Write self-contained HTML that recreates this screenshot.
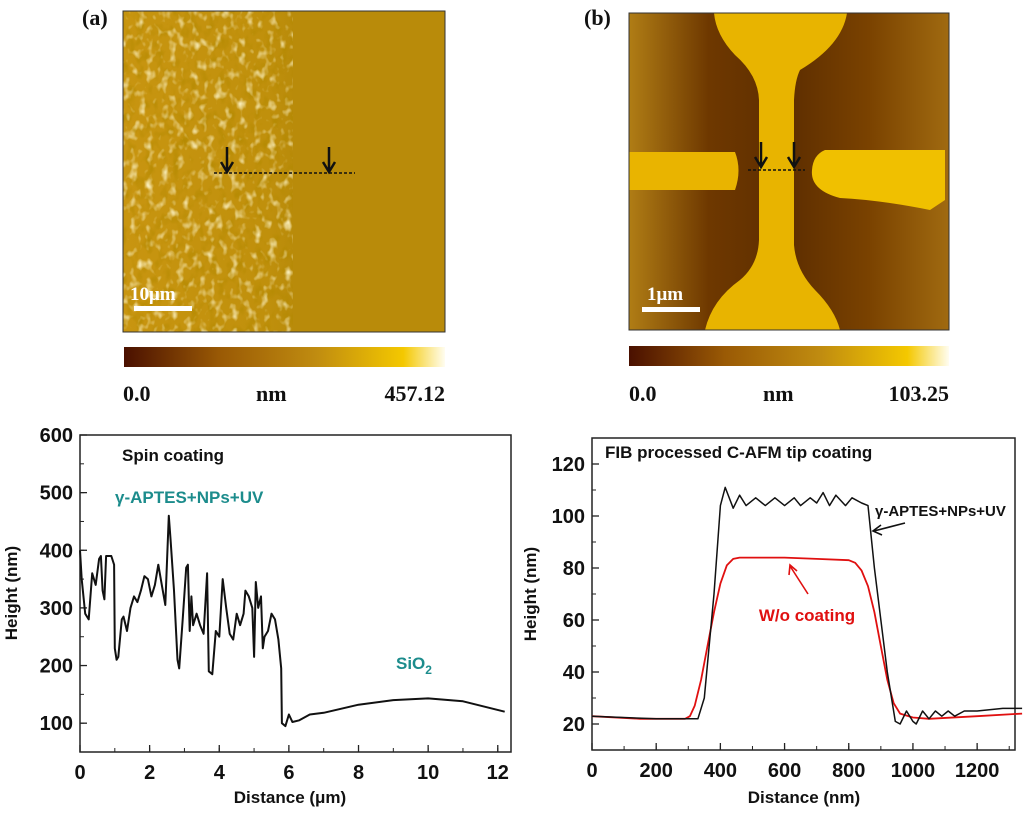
<!DOCTYPE html>
<html><head><meta charset="utf-8"><style>
body{margin:0;background:#fff;width:1024px;height:813px;overflow:hidden}
svg{display:block}
.tk{font:bold 20px "Liberation Sans",sans-serif;fill:#111}
.at{font:bold 17px "Liberation Sans",sans-serif;fill:#111}
.tl{font:bold 22px "Liberation Serif",serif;fill:#111}
</style></head><body>
<svg id="fig" width="1024" height="813">
<defs>
<filter id="tex" x="0" y="0" width="100%" height="100%">
<feTurbulence type="fractalNoise" baseFrequency="0.13 0.1" numOctaves="2" seed="4"/>
<feColorMatrix type="matrix" values="0 0 0 0 1  0 0 0 0 0.93  0 0 0 0 0.6  2.6 0 0 0 -1.35"/>
</filter>
<filter id="tex2" x="0" y="0" width="100%" height="100%">
<feTurbulence type="fractalNoise" baseFrequency="0.11 0.08" numOctaves="2" seed="9"/>
<feColorMatrix type="matrix" values="0 0 0 0 0.45  0 0 0 0 0.25  0 0 0 0 0  2.4 0 0 0 -1.2"/>
</filter>
<linearGradient id="cbar" x1="0" x2="1">
<stop offset="0" stop-color="#4a1000"/><stop offset="0.3" stop-color="#9a5a05"/><stop offset="0.6" stop-color="#c08c10"/><stop offset="0.87" stop-color="#f4c800"/><stop offset="1" stop-color="#fffdf0"/></linearGradient>
<linearGradient id="bgB" x1="0" x2="1">
<stop offset="0" stop-color="#b07d15"/><stop offset="0.25" stop-color="#6e3800"/><stop offset="0.5" stop-color="#5e2e00"/><stop offset="0.75" stop-color="#7a4200"/><stop offset="1" stop-color="#a06a10"/></linearGradient>
<linearGradient id="leftA" x1="0" x2="1">
<stop offset="0" stop-color="#c89510"/><stop offset="0.85" stop-color="#c0900c"/><stop offset="1" stop-color="#b98b0a"/></linearGradient>
</defs>

<!-- panel a -->
<g>
<rect x="123" y="11" width="322" height="321" fill="#b98b0a"/>
<rect x="123" y="11" width="170" height="321" fill="url(#leftA)"/>
<rect x="123" y="11" width="170" height="321" filter="url(#tex2)" opacity="0.9"/>
<rect x="123" y="11" width="170" height="321" filter="url(#tex)" opacity="0.9"/>
<rect x="123" y="11" width="322" height="321" fill="none" stroke="#333" stroke-width="1"/>
<path d="M214,173 L355,173" stroke="#111" stroke-width="1.5" stroke-dasharray="3,2"/>
<path d="M227,147 V170 M221,162 L227,172 L233,162" stroke="#111" stroke-width="2.5" fill="none"/>
<path d="M329,147 V170 M323,162 L329,172 L335,162" stroke="#111" stroke-width="2.5" fill="none"/>
<rect x="134" y="306" width="58" height="5" fill="#fff"/>
<text x="130" y="300" font-family="Liberation Serif,serif" font-weight="bold" font-size="19" fill="#fff">10μm</text>
</g>
<text class="tl" x="82" y="25" font-size="24">(a)</text>
<rect x="124" y="347" width="321" height="20" fill="url(#cbar)"/>
<text class="tl" x="123" y="401">0.0</text>
<text class="tl" x="256" y="401">nm</text>
<text class="tl" x="445" y="401" text-anchor="end">457.12</text>

<!-- panel b -->
<g>
<rect x="629" y="13" width="320" height="317" fill="url(#bgB)"/>
<path d="M714,13 H847 Q842,45 800,70 Q795,80 794,100 V245 Q796,270 815,290 Q835,310 840,330 H705 Q712,300 740,280 Q758,265 759,240 V100 Q758,75 735,55 Q716,35 714,13 Z" fill="#e8b400"/>
<path d="M629,152 H735 Q742,170 735,190 H629 Z" fill="#e9b400"/>
<path d="M815,150 H945 V200 L930,210 Q880,200 840,198 Q810,190 812,170 Q813,155 825,150 Z" fill="#f0c000"/>
<rect x="629" y="13" width="320" height="317" fill="none" stroke="#333"/>
<path d="M748,170 L805,170" stroke="#111" stroke-width="1.5" stroke-dasharray="3,2"/>
<path d="M761,142 V165 M755,157 L761,167 L767,157" stroke="#111" stroke-width="2.5" fill="none"/>
<path d="M794,142 V165 M788,157 L794,167 L800,157" stroke="#111" stroke-width="2.5" fill="none"/>
<rect x="642" y="307" width="58" height="5" fill="#fff"/>
<text x="647" y="300" font-family="Liberation Serif,serif" font-weight="bold" font-size="19" fill="#fff">1μm</text>
</g>
<text class="tl" x="584" y="25" font-size="24">(b)</text>
<rect x="629" y="346" width="320" height="20" fill="url(#cbar)"/>
<text class="tl" x="629" y="401">0.0</text>
<text class="tl" x="763" y="401">nm</text>
<text class="tl" x="949" y="401" text-anchor="end">103.25</text>

<g id="chartL"></g>
<g id="chartR"></g>
</svg>
<script>
const spinX=[0,0.05,0.15,0.25,0.35,0.45,0.55,0.6,0.65,0.7,0.75,0.9,0.98,1.0,1.05,1.1,1.2,1.25,1.35,1.45,1.55,1.65,1.75,1.85,1.95,2.05,2.15,2.25,2.35,2.45,2.55,2.6,2.7,2.8,2.85,2.95,3.05,3.1,3.15,3.2,3.25,3.35,3.45,3.55,3.65,3.7,3.8,3.9,4.0,4.1,4.2,4.3,4.4,4.5,4.6,4.7,4.75,4.85,4.95,5.0,5.05,5.12,5.2,5.25,5.3,5.4,5.5,5.6,5.7,5.78,5.8,5.9,6.0,6.1,6.3,6.6,7,8,9,10,11,12.2];
const spinY=[400,350,290,280,360,340,385,390,330,315,390,390,375,230,210,215,280,285,260,300,320,310,330,355,350,320,340,375,340,305,460,420,330,210,195,280,370,375,260,320,270,290,270,255,360,190,185,260,250,350,300,255,245,290,270,290,330,320,300,215,345,300,320,230,250,260,290,280,245,195,100,95,115,102,105,115,118,132,140,143,138,120];
const spinXTicks=[0,2,4,6,8,10,12];
const spinYTicks=[100,200,300,400,500,600];

const fibX=[0,200,330,350,380,400,415,440,460,480,510,540,570,600,630,650,680,700,720,740,760,790,810,840,860,880,920,945,960,980,1000,1010,1030,1050,1070,1090,1110,1130,1160,1200,1280,1340];
const fibCoated=[23,22,22,30,70,104,111,103,108,104,107,104,107,104,107,104,107,105,109,104,108,104,107,105,104,80,40,21,20,25,21,20,25,22,25,23,25,23,25,25,26,26];
const fibRawX=[0,150,290,305,320,340,360,380,400,420,440,460,600,700,800,820,840,860,880,900,920,940,960,1000,1050,1200,1340];
const fibRaw=[23,22,22,23,27,37,50,63,74,81,83.5,84,84,83.5,83,82,79,73,63,50,37,28,24,22.5,22,23,24];
const fibXTicks=[0,200,400,600,800,1000,1200];
const fibYTicks=[20,40,60,80,100,120];

const NS='http://www.w3.org/2000/svg';
function mk(p,t,a){const e=document.createElementNS(NS,t);for(const k in a)e.setAttribute(k,a[k]);p.appendChild(e);return e;}

function axes(g,L,R,T,B,x0,x1,y0,y1,xt,yt,xminor,yminor){
  const sx=v=>L+(v-x0)/(x1-x0)*(R-L), sy=v=>B-(v-y0)/(y1-y0)*(B-T);
  const fr=mk(g,'rect',{x:L,y:T,width:R-L,height:B-T,fill:'none',stroke:'#222','stroke-width':1.5});
  
  
  xt.forEach(v=>{
    mk(g,'line',{x1:sx(v),x2:sx(v),y1:B,y2:B-7,stroke:'#222','stroke-width':1.3});
    const t=mk(g,'text',{x:sx(v),y:B+27,class:'tk','text-anchor':'middle'});t.textContent=v;
    
    
  });
  for(let v=x0+xminor;v<x1;v+=xminor) mk(g,'line',{x1:sx(v),x2:sx(v),y1:B,y2:B-4,stroke:'#222'});
  yt.forEach(v=>{
    mk(g,'line',{x1:L,x2:L+7,y1:sy(v),y2:sy(v),stroke:'#222','stroke-width':1.3});
    const t=mk(g,'text',{x:L-7,y:sy(v)+7,class:'tk','text-anchor':'end'});t.textContent=v;
    
    
  });
  for(let v=Math.ceil(y0/yminor)*yminor;v<y1;v+=yminor) mk(g,'line',{x1:L,x2:L+4,y1:sy(v),y2:sy(v),stroke:'#222'});
  return [sx,sy];
}
function line(g,sx,sy,xs,ys,col,w,name){
  const p=mk(g,'path',{d:xs.map((x,i)=>(i?'L':'M')+sx(x).toFixed(1)+','+sy(ys[i]).toFixed(1)).join(''),fill:'none',stroke:col,'stroke-width':w,'stroke-linejoin':'round'});
  
  
}
function txt(g,x,y,s,str,extra,name){const t=mk(g,'text',Object.assign({x:x,y:y,style:s},extra||{}));t.textContent=str;
  
  return t;}

// left chart
const gL=document.getElementById('chartL');
let [sx,sy]=axes(gL,80,511,435,752,0,12.38,50,600,spinXTicks,spinYTicks,1,50);
line(gL,sx,sy,spinX,spinY,'#111',2,'spin-coating-line');
txt(gL,122,461,'font:bold 17px "Liberation Sans",sans-serif;fill:#111','Spin coating',null,'chart-title-left');
txt(gL,115,503,'font:bold 17px "Liberation Sans",sans-serif;fill:#1c8c8c','γ-APTES+NPs+UV',null,'label-aptes');
const si=txt(gL,396,669,'font:bold 17px "Liberation Sans",sans-serif;fill:#1c8c8c','SiO',null,'label-sio2');
const sub=mk(si,'tspan',{dy:5,'font-size':12});sub.textContent='2';
txt(gL,290,803,'','Distance (μm)',{class:'at','text-anchor':'middle'},'x-axis-title-left');
txt(gL,0,0,'','Height (nm)',{class:'at','text-anchor':'middle',transform:'translate(17,593) rotate(-90)'},'y-axis-title-left');

// right chart
const gR=document.getElementById('chartR');
[sx,sy]=axes(gR,592,1015,438,750,0,1318,10,130,fibXTicks,fibYTicks,100,10);
line(gR,sx,sy,fibRawX,fibRaw,'#e01010',1.8,'without-coating-line');
line(gR,sx,sy,fibX,fibCoated,'#111',1.5,'aptes-coated-line');
txt(gR,605,458,'font:bold 17px "Liberation Sans",sans-serif;fill:#111','FIB processed C-AFM tip coating',null,'chart-title-right');
txt(gR,875,516,'font:bold 15px "Liberation Sans",sans-serif;fill:#111','γ-APTES+NPs+UV',null,'label-aptes-right');
txt(gR,807,621,'font:bold 17px "Liberation Sans",sans-serif;fill:#e01010','W/o coating',{'text-anchor':'middle'},'label-without-coating');
mk(gR,'path',{d:'M905,523 L874,531 M881,525 L873,531 L882,535',stroke:'#111','stroke-width':1.6,fill:'none'});
mk(gR,'path',{d:'M808,594 L790,566 M789,575 L790,565 L797,571',stroke:'#e01010','stroke-width':1.6,fill:'none'});
txt(gR,804,803,'','Distance (nm)',{class:'at','text-anchor':'middle'},'x-axis-title-right');
txt(gR,0,0,'','Height (nm)',{class:'at','text-anchor':'middle',transform:'translate(536,594) rotate(-90)'},'y-axis-title-right');
</script>
</body></html>
